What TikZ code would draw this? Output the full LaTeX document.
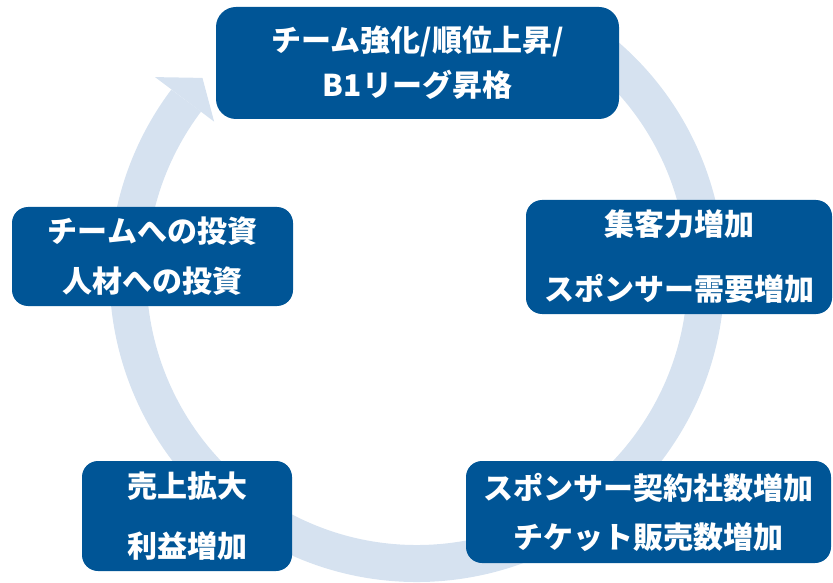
\documentclass[tikz,border=0pt]{standalone}
\usepackage{fontspec}
\setmainfont{Noto Sans CJK JP}
\usepackage{tikz}
\usetikzlibrary{calc}
\definecolor{boxblue}{RGB}{0,85,150}
\definecolor{ringblue}{RGB}{214,226,240}

\begin{document}
\begin{tikzpicture}[x=1pt,y=1pt,
  cyclebox/.style={fill=boxblue,rounded corners=16pt,text=white,align=center,inner sep=0pt,
    font=\fontsize{30pt}{45pt}\selectfont\bfseries}]
\useasboundingbox (0,0) rectangle (833,582);
\coordinate (c) at (417,307.5);
% ring with its head
\draw[ringblue,line width=37pt] ([shift={(55:289)}]c) arc[start angle=55,end angle=-217,radius=289];
\fill[ringblue] ([shift={(143:254)}]c) -- ([shift={(137.5:291)}]c) -- ([shift={(143:328)}]c) -- cycle;
% boxes
\node[cyclebox,minimum width=403pt,minimum height=112pt,rounded corners=20pt] (rank) at (417.5,519) {チーム強化/順位上昇/\\B1リーグ昇格};
\node[cyclebox,minimum width=306pt,minimum height=114pt] (fans) at (679,325) {集客力増加\\[20pt]スポンサー需要増加};
\node[cyclebox,minimum width=365pt,minimum height=102pt] (tickets) at (648.5,70) {スポンサー契約社数増加\\[4pt]チケット販売数増加};
\node[cyclebox,minimum width=210pt,minimum height=110pt] (sales) at (187,66) {売上拡大\\[15pt]利益増加};
\node[cyclebox,minimum width=281pt,minimum height=99pt] (invest) at (152.5,325.5) {チームへの投資\\[5pt]人材への投資};
\end{tikzpicture}
\end{document}
